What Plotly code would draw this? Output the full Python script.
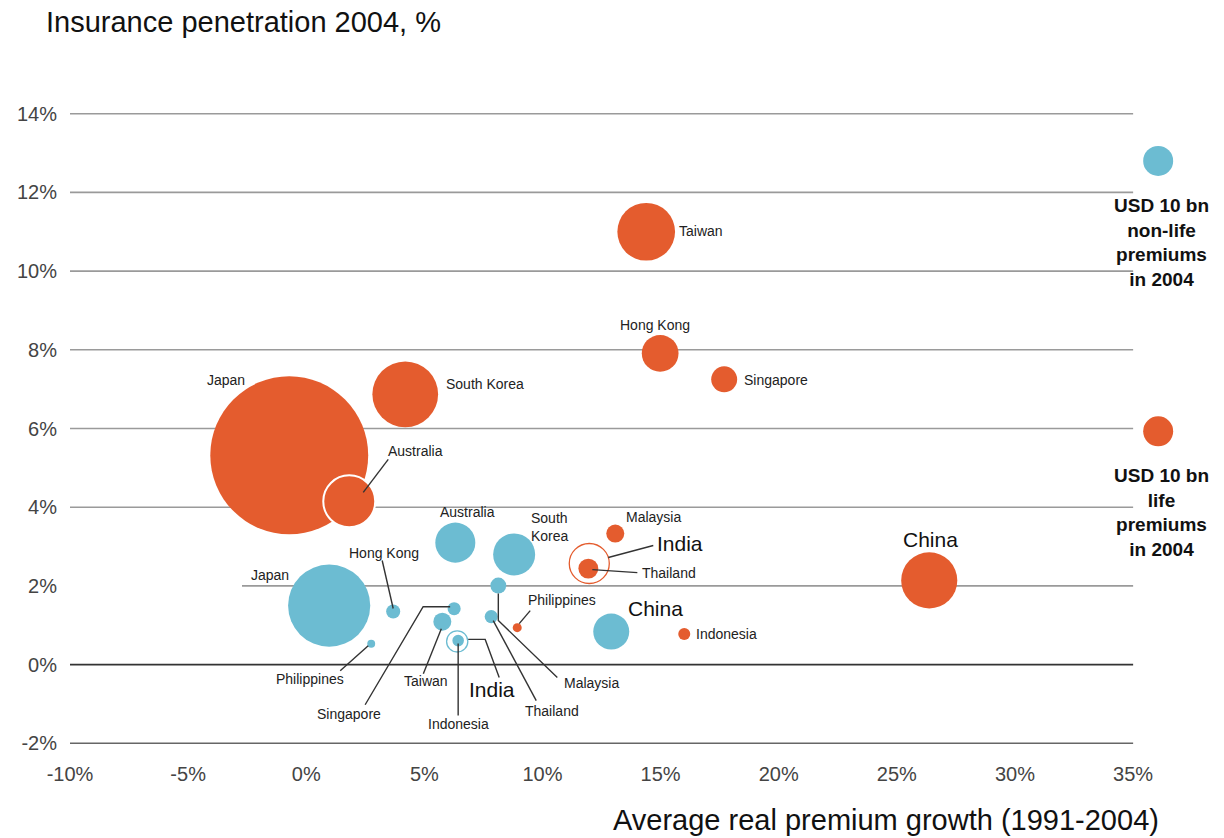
import plotly.graph_objects as go

# ---------------- data ----------------
life_countries = ["Japan", "South Korea", "Australia", "Taiwan", "Hong Kong", "Singapore",
                  "Malaysia", "Thailand", "Philippines", "Indonesia", "China"]
life_growth = [-0.72, 4.19, 1.82, 14.39, 14.98, 17.69, 13.08, 11.94, 8.93, 16.0, 26.37]
life_penetration = [5.32, 6.87, 4.15, 11.0, 7.91, 7.25, 3.33, 2.44, 0.94, 0.78, 2.14]
life_premiums_bn = [277, 48, 30, 37, 15, 7.5, 3.6, 4.4, 0.9, 1.6, 35]

life_india_growth = 11.98
life_india_penetration = 2.57
life_india_premiums_bn = 17.8

nonlife_countries = ["Japan", "Hong Kong", "Philippines", "Australia", "South Korea", "Singapore",
                     "Taiwan", "Indonesia", "Thailand", "Malaysia", "China"]
nonlife_growth = [0.97, 3.68, 2.75, 6.31, 8.8, 6.26, 5.76, 6.43, 7.83, 8.13, 12.91]
nonlife_penetration = [1.5, 1.35, 0.53, 3.1, 2.8, 1.42, 1.09, 0.61, 1.22, 2.01, 0.84]
nonlife_premiums_bn = [75, 2.2, 0.7, 17.8, 19.6, 1.9, 3.6, 1.9, 1.9, 2.8, 14.4]

nonlife_india_growth = 6.39
nonlife_india_penetration = 0.59
nonlife_india_premiums_bn = 5.0

legend_premium_bn = 10
legend_x = 36.06
legend_nonlife_y = 12.8
legend_life_y = 5.93

x_ticks = [-10, -5, 0, 5, 10, 15, 20, 25, 30, 35]
y_ticks = [-2, 0, 2, 4, 6, 8, 10, 12, 14]

# ---------------- styles / layout ----------------
ORANGE = "#E45C2E"
BLUE = "#6CBCD2"
FONT = "Liberation Sans"
W, H = 1224, 838
ML, MR, MT, MB = 70, 20, 35, 75
XR = [-10, 38]
YR = [-2.5, 16]
PW, PH = W - ML - MR, H - MT - MB
XPX = PW / (XR[1] - XR[0])
YPX = PH / (YR[1] - YR[0])
SIZEREF = 4 * legend_premium_bn / (2 * 30 ** 2)  # 10bn -> 30px diameter


def px2x(px):
    return XR[0] + (px - ML) / XPX


def px2y(py):
    return YR[1] - (py - MT) / YPX


def off(x, y, dx, dy):
    return x + dx / XPX, y - dy / YPX


fig = go.Figure()

# gridlines
shapes = []
for yv in y_ticks:
    x0 = -10
    color = "#9a9a9a"
    if yv == 2:
        x0 = px2x(242)
    if yv == 0:
        color = "#333333"
    if yv == -2:
        color = "#666666"
    shapes.append(dict(type="line", xref="x", yref="y", x0=x0, x1=35, y0=yv, y1=yv,
                       line=dict(color=color, width=1.6), layer="below"))

# bubbles
life_line_w = [2 if c == "Australia" else 0 for c in life_countries]
fig.add_trace(go.Scatter(
    x=life_growth, y=life_penetration, mode="markers", hoverinfo="text", text=life_countries,
    marker=dict(size=life_premiums_bn, sizemode="area", sizeref=SIZEREF, color=ORANGE,
                opacity=1, line=dict(color="white", width=life_line_w)),
    showlegend=False, cliponaxis=False))
fig.add_trace(go.Scatter(
    x=[life_india_growth], y=[life_india_penetration], mode="markers", hoverinfo="text", text=["India"],
    marker=dict(size=[life_india_premiums_bn], sizemode="area", sizeref=SIZEREF, opacity=1,
                color="rgba(0,0,0,0)", line=dict(color=ORANGE, width=1.3)),
    showlegend=False))
nl_line_w = [1.5 if c == "Indonesia" else 0 for c in nonlife_countries]
fig.add_trace(go.Scatter(
    x=nonlife_growth, y=nonlife_penetration, mode="markers", hoverinfo="text", text=nonlife_countries,
    marker=dict(size=nonlife_premiums_bn, sizemode="area", sizeref=SIZEREF, color=BLUE, opacity=1,
                line=dict(color="white", width=nl_line_w)),
    showlegend=False))
fig.add_trace(go.Scatter(
    x=[nonlife_india_growth], y=[nonlife_india_penetration], mode="markers", hoverinfo="text", text=["India"],
    marker=dict(size=[nonlife_india_premiums_bn], sizemode="area", sizeref=SIZEREF, opacity=1,
                color="rgba(0,0,0,0)", line=dict(color=BLUE, width=1.3)),
    showlegend=False))
# legend key bubbles
fig.add_trace(go.Scatter(
    x=[legend_x, legend_x], y=[legend_nonlife_y, legend_life_y], mode="markers", hoverinfo="skip",
    marker=dict(size=[legend_premium_bn, legend_premium_bn], sizemode="area", sizeref=SIZEREF,
                color=[BLUE, ORANGE], opacity=1, line=dict(width=0)),
    showlegend=False, cliponaxis=False))

# labels: (dx, dy, xanchor, big, leader line offsets, line above bubbles)
life_labels = {
    "Japan": (-63, -75, "center", False, None, False),
    "South Korea": (39, -10, "left", False, None, False),
    "Australia": (66, -50, "center", False, [(39, -42), (14, -9)], True),
    "Taiwan": (31, -1, "left", False, None, False),
    "Hong Kong": (-5, -28, "center", False, None, False),
    "Singapore": (18, 1, "left", False, None, False),
    "Malaysia": (38, -17, "center", False, None, False),
    "Thailand": (52, 4, "left", False, [(4, 1), (49, 4)], True),
    "Philippines": (45, -28, "center", False, [(13, -17), (2, -4)], True),
    "Indonesia": (10, 0, "left", False, None, False),
    "China": (1, -41, "center", True, None, False),
}
nonlife_labels = {
    "Australia": (12, -31, "center", False, None, False),
    "South Korea": (15, -27, "left", False, None, False),
    "Hong Kong": (-9, -59, "center", False, [(-11, -51), (0, -3)], True),
    "Japan": (-59, -31, "center", False, None, False),
    "Philippines": (-61, 35, "center", False, [(-3, 2), (-31, 27)], True),
    "Singapore": (-105, 105, "center", False, [(-89, 96), (-31, -2), (-4, -2)], True),
    "Taiwan": (-16, 59, "center", False, [(-19, 52), (-1, 7)], True),
    "Indonesia": (0, 83, "center", False, [(0, 3), (0, 75)], True),
    "Thailand": (61, 94, "center", False, [(2, 4), (45, 84)], True),
    "Malaysia": (93, 97, "center", False, [(0, 8), (0, 35), (59, 92)], True),
    "China": (44, -23, "center", True, None, False),
}
india_labels = [
    (life_india_growth, life_india_penetration, 91, -20, [(19, -6), (64, -18)]),
    (nonlife_india_growth, nonlife_india_penetration, 35, 48, [(11, -2), (28, -2), (42, 36)]),
]

annotations = []


def add_label(text, x, y, dx, dy, xanchor, big, line, above):
    lx, ly = off(x, y, dx, dy)
    annotations.append(dict(
        x=lx, y=ly, xref="x", yref="y", text=text, showarrow=False, xanchor=xanchor,
        yanchor="middle", align="left",
        font=dict(family=FONT, size=21 if big else 14, color="#111" if big else "#222")))
    if line:
        pts = [off(x, y, a, b) for a, b in line]
        path = "M " + " L ".join(f"{px},{py}" for px, py in pts)
        shapes.append(dict(type="path", xref="x", yref="y", path=path,
                           line=dict(color="#333", width=1.4), layer="above" if above else "below"))


for c, gx, gy in zip(life_countries, life_growth, life_penetration):
    dx, dy, xa, big, line, above = life_labels[c]
    add_label(c, gx, gy, dx, dy, xa, big, line, above)
for c, gx, gy in zip(nonlife_countries, nonlife_growth, nonlife_penetration):
    dx, dy, xa, big, line, above = nonlife_labels[c]
    text = "South<br>Korea" if c == "South Korea" else c
    add_label(text, gx, gy, dx, dy, xa, big, line, above)
for gx, gy, dx, dy, line in india_labels:
    add_label("India", gx, gy, dx, dy, "center", True, line, True)

# legend texts
for ytxt, kind in [(legend_nonlife_y, "non-life"), (legend_life_y, "life")]:
    lx, ly = off(legend_x, ytxt, 3, 32)
    annotations.append(dict(
        x=lx, y=ly, xref="x", yref="y", showarrow=False, xanchor="center", yanchor="top",
        text=f"<b>USD {legend_premium_bn} bn<br>{kind}<br>premiums<br>in 2004</b>", align="center",
        font=dict(family=FONT, size=19, color="#111")))

# titles (paper coordinates so they are never hidden)
annotations.append(dict(x=(44 - ML) / PW, y=1 + (MT - 22) / PH, xref="paper", yref="paper",
                        showarrow=False, xanchor="left", yanchor="middle",
                        text="Insurance penetration 2004, %",
                        font=dict(family=FONT, size=29, color="#111")))
annotations.append(dict(x=(1161 - ML) / PW, y=-(820 - (H - MB)) / PH, xref="paper", yref="paper",
                        showarrow=False, xanchor="right", yanchor="middle",
                        text="Average real premium growth (1991-2004)",
                        font=dict(family=FONT, size=29, color="#111")))

fig.update_layout(
    width=W, height=H, margin=dict(l=ML, r=MR, t=MT, b=MB),
    paper_bgcolor="white", plot_bgcolor="white",
    shapes=shapes, annotations=annotations, showlegend=False,
    xaxis=dict(range=XR, tickvals=x_ticks, ticktext=[f"{v}%" for v in x_ticks],
               showgrid=False, zeroline=False, showline=False, ticks="",
               tickfont=dict(family=FONT, size=20, color="#444"), ticklabelstandoff=-3),
    yaxis=dict(range=YR, tickvals=y_ticks, ticktext=[f"{v}%" for v in y_ticks],
               showgrid=False, zeroline=False, showline=False, ticks="",
               tickfont=dict(family=FONT, size=20, color="#444"), ticklabelstandoff=12),
)

fig.write_html("out.html")
